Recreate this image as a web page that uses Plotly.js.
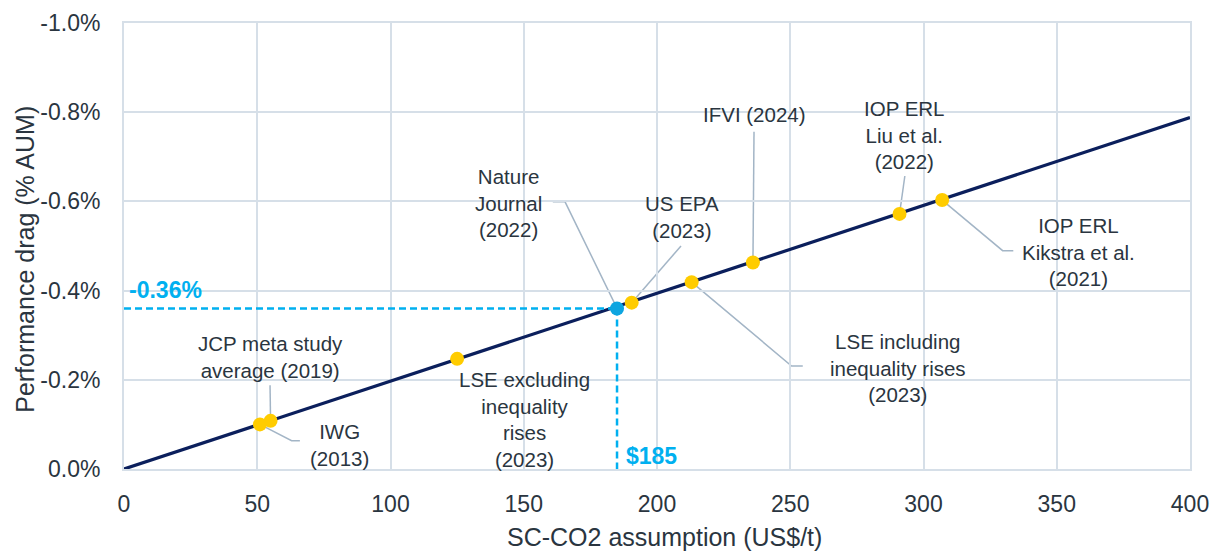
<!DOCTYPE html>
<html>
<head>
<meta charset="utf-8">
<script src="https://cdn.plot.ly/plotly-3.0.1.min.js"></script>
<style>html,body{margin:0;padding:0;background:#fff;}#chart{width:1213px;height:552px;}</style>
</head>
<body>
<div id="chart"></div>
<script>
// ---- data ----
var lineX = [0, 400];
var lineY = [0, -0.788];

var studyNames = ["IWG (2013)", "JCP meta study average (2019)", "LSE excluding inequality rises (2023)",
  "US EPA (2023)", "LSE including inequality rises (2023)", "IFVI (2024)",
  "IOP ERL Liu et al. (2022)", "IOP ERL Kikstra et al. (2021)"];
var studyX = [51, 55, 125, 190.5, 213, 236, 291, 307];
var studyY = [-0.100, -0.108, -0.247, -0.373, -0.419, -0.463, -0.572, -0.603];

var natureName = "Nature Journal (2022)";
var natureX = 185;
var natureY = -0.36;

var xTicks = [0, 50, 100, 150, 200, 250, 300, 350, 400];
var yTicks = [0, -0.2, -0.4, -0.6, -0.8, -1.0];

var xTitle = "SC-CO2 assumption (US$/t)";
var yTitle = "Performance drag (% AUM)";

// ---- label layout (text + text position + leader path via-points) ----
var labels = [
  {text: "IWG<br>(2013)", tx: 81, ty: -0.053, idx: 0, via: [[62.9, -0.0635], [66.0, -0.0635]]},
  {text: "JCP meta study<br>average (2019)", tx: 54.8, ty: -0.252, idx: 1, via: [[54.8, -0.188]]},
  {text: "LSE excluding<br>inequality<br>rises<br>(2023)", tx: 150.3, ty: -0.111, idx: 2, via: null},
  {text: "US EPA<br>(2023)", tx: 209.3, ty: -0.564, idx: 3, via: [[209, -0.50]]},
  {text: "LSE including<br>inequality rises<br>(2023)", tx: 290.6, ty: -0.226, idx: 4, via: [[250.5, -0.231], [254.7, -0.231]]},
  {text: "IFVI (2024)", tx: 236.4, ty: -0.794, idx: 5, via: [[236.4, -0.756]]},
  {text: "IOP ERL<br>Liu et al.<br>(2022)", tx: 293, ty: -0.749, idx: 6, via: [[293, -0.657]]},
  {text: "IOP ERL<br>Kikstra et al.<br>(2021)", tx: 358.1, ty: -0.4865, idx: 7, via: [[329.7, -0.4895], [333.7, -0.4895]]}
];
var natureLabel = {text: "Nature<br>Journal<br>(2022)", tx: 144.1, ty: -0.596, via: [[165.5, -0.599], [160.9, -0.599]]};

var FONT = "Liberation Sans, Arial, sans-serif";
var TXT = "#2a3540";
var GRID = "#d6dfe8";
var LEADER = "#a3b5c6";
var BLUE = "#00b0f0";

var traces = [
  {x: lineX, y: lineY, mode: "lines", line: {color: "#0b1f5c", width: 3.2}, hoverinfo: "skip", showlegend: false},
  {x: [xTicks[0], natureX], y: [natureY, natureY], mode: "lines", line: {color: BLUE, width: 2.5, dash: "7px,4px"}, showlegend: false, hoverinfo: "skip"},
  {x: [natureX, natureX], y: [natureY, yTicks[0]], mode: "lines", line: {color: BLUE, width: 2.5, dash: "7px,4px"}, showlegend: false, hoverinfo: "skip"},
  {x: studyX, y: studyY, text: studyNames, mode: "markers", marker: {color: "#ffcc00", size: 14}, showlegend: false, hoverinfo: "text"},
  {x: [natureX], y: [natureY], text: [natureName], mode: "markers", marker: {color: "#0ea5e0", size: 14}, showlegend: false, hoverinfo: "text"}
];

var shapes = [];
var annotations = [];
function pathFrom(px, py, via) {
  var d = "M " + px + "," + py;
  via.forEach(function (p) { d += " L " + p[0] + "," + p[1]; });
  return d;
}
labels.forEach(function (l) {
  if (l.via) {
    shapes.push({type: "path", xref: "x", yref: "y", path: pathFrom(studyX[l.idx], studyY[l.idx], l.via),
      line: {color: LEADER, width: 1.5}, layer: "below"});
  }
  annotations.push({x: l.tx, y: l.ty, xref: "x", yref: "y", text: l.text, showarrow: false,
    font: {family: FONT, size: 20.5, color: TXT}, align: "center", xanchor: "center", yanchor: "middle"});
});
shapes.push({type: "path", xref: "x", yref: "y", path: pathFrom(natureX, natureY, natureLabel.via),
  line: {color: LEADER, width: 1.5}, layer: "below"});
annotations.push({x: natureLabel.tx, y: natureLabel.ty, xref: "x", yref: "y", text: natureLabel.text, showarrow: false,
  font: {family: FONT, size: 20.5, color: TXT}, align: "center", xanchor: "center", yanchor: "middle"});

annotations.push({x: 1.2, y: -0.401, xref: "x", yref: "y", text: "<b>" + natureY.toFixed(2) + "%</b>", showarrow: false,
  font: {family: FONT, size: 23, color: BLUE}, xanchor: "left", yanchor: "middle"});
annotations.push({x: 187.5, y: -0.029, xref: "x", yref: "y", text: "<b>$" + natureX + "</b>", showarrow: false,
  font: {family: FONT, size: 23, color: BLUE}, xanchor: "left", yanchor: "middle"});

// axis titles as annotations for exact placement
annotations.push({x: 0.507, y: -0.153, xref: "paper", yref: "paper", text: xTitle, showarrow: false,
  font: {family: FONT, size: 25, color: TXT}, xanchor: "center", yanchor: "middle"});
annotations.push({x: -0.093, y: 0.471, xref: "paper", yref: "paper", text: yTitle, showarrow: false, textangle: -90,
  font: {family: FONT, size: 25, color: TXT}, xanchor: "center", yanchor: "middle"});

var layout = {
  width: 1213, height: 552,
  margin: {l: 124, r: 23, t: 23, b: 83},
  paper_bgcolor: "#fff", plot_bgcolor: "#fff",
  font: {family: FONT, color: TXT},
  xaxis: {
    range: [0, 400], tickvals: xTicks, ticktext: xTicks.map(String),
    showgrid: true, gridcolor: GRID, gridwidth: 2, zeroline: false,
    showline: true, mirror: true, linecolor: GRID, linewidth: 2,
    ticks: "", ticklabelstandoff: 13,
    tickfont: {family: FONT, size: 23, color: TXT}
  },
  yaxis: {
    range: [0, -1.0], tickvals: yTicks, ticktext: yTicks.map(function (v) { return v.toFixed(1) + "%"; }),
    showgrid: true, gridcolor: GRID, gridwidth: 2, zeroline: false,
    showline: true, mirror: true, linecolor: GRID, linewidth: 2,
    ticks: "", ticklabelstandoff: 17,
    tickfont: {family: FONT, size: 23, color: TXT}
  },
  shapes: shapes,
  annotations: annotations,
  showlegend: false
};

Plotly.newPlot("chart", traces, layout, {displayModeBar: false, staticPlot: true});
</script>
</body>
</html>
